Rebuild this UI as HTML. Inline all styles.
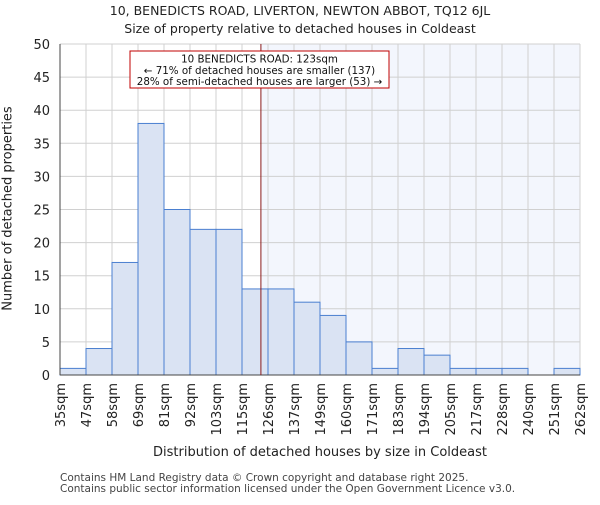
<!DOCTYPE html>
<html><head><meta charset="utf-8"><style>body{margin:0;background:#fff}svg{font-family:"DejaVu Sans","Liberation Sans",sans-serif}</style></head>
<body>
<svg id="chart" width="600" height="500"></svg>
<script>
const labels=["35sqm","47sqm","58sqm","69sqm","81sqm","92sqm","103sqm","115sqm","126sqm","137sqm","149sqm","160sqm","171sqm","183sqm","194sqm","205sqm","217sqm","228sqm","240sqm","251sqm","262sqm"];
const counts=[1,4,17,38,25,22,22,13,13,11,9,5,1,4,3,1,1,1,0,1];
const yTicks=[0,5,10,15,20,25,30,35,40,45,50];
const marker=123;
const edges=[35,47,58,69,81,92,103,115,126,137,149,160,171,183,194,205,217,228,240,251,262];
const svg=document.getElementById('chart');const NS='http://www.w3.org/2000/svg';
const L=60,R=580,T=44,B=375;
const bw=(R-L)/counts.length;
const y=v=>B-(v/50)*(B-T);
function xv(v){for(let i=0;i<edges.length-1;i++){if(v<=edges[i+1])return L+bw*(i+(v-edges[i])/(edges[i+1]-edges[i]));}return R;}
function mk(t,a,p){const e=document.createElementNS(NS,t);for(const k in a)e.setAttribute(k,a[k]);(p||svg).appendChild(e);return e;}
const mx=xv(marker);
let e=mk('rect',{x:mx,y:T,width:R-mx,height:B-T,fill:'#f3f6fd'});


yTicks.forEach(v=>{const l=mk('line',{x1:L,x2:R,y1:y(v),y2:y(v),stroke:'#d0d0d0'});


const t=mk('text',{x:L-10,y:y(v)+5,'text-anchor':'end','font-size':13,fill:'#222'});t.textContent=v;

});
labels.forEach((s,i)=>{const x=L+bw*i;const l=mk('line',{x1:x,x2:x,y1:T,y2:B,stroke:'#d0d0d0'});


const t=mk('text',{x:0,y:0,'text-anchor':'end','font-size':13,fill:'#222',transform:`translate(${x+5},${B+8}) rotate(-90)`});t.textContent=s;

});
counts.forEach((c,i)=>{if(c<=0)return;const r=mk('rect',{x:L+bw*i,y:y(c),width:bw,height:B-y(c),fill:'#dae3f3',stroke:'#4a7fd0','stroke-width':1});

});
e=mk('line',{x1:L,x2:L,y1:T,y2:B,stroke:'#444'});
e=mk('line',{x1:L,x2:R,y1:B,y2:B,stroke:'#444'});
e=mk('line',{x1:mx,x2:mx,y1:T,y2:B,stroke:'#8b1a1a','stroke-width':1});
const g=mk('g',{});
mk('rect',{x:130,y:51,width:259,height:37,fill:'#fff',stroke:'#c00000'},g);
[["10 BENEDICTS ROAD: 123sqm",62.5],["← 71% of detached houses are smaller (137)",74],["28% of semi-detached houses are larger (53) →",85]].forEach(a=>{const t=mk('text',{x:259.5,y:a[1],'text-anchor':'middle','font-size':10.3,fill:'#111'},g);t.textContent=a[0];});
</script>
<div style="position:absolute;left:0;top:0;width:600px;font-family:'DejaVu Sans',sans-serif;color:#222">
<div style="position:absolute;top:2px;width:600px;text-align:center;font-size:12.5px;line-height:18px">10, BENEDICTS ROAD, LIVERTON, NEWTON ABBOT, TQ12 6JL<br>Size of property relative to detached houses in Coldeast</div>
<div style="position:absolute;top:445px;left:60px;width:520px;text-align:center;font-size:13px">Distribution of detached houses by size in Coldeast</div>
<div style="position:absolute;top:201px;left:-112px;width:240px;text-align:center;font-size:13px;white-space:nowrap;transform:rotate(-90deg)">Number of detached properties</div>
<div style="position:absolute;top:473px;left:60px;font-size:10.5px;line-height:11px;color:#444">Contains HM Land Registry data © Crown copyright and database right 2025.<br>Contains public sector information licensed under the Open Government Licence v3.0.</div>
</div>
</body></html>
